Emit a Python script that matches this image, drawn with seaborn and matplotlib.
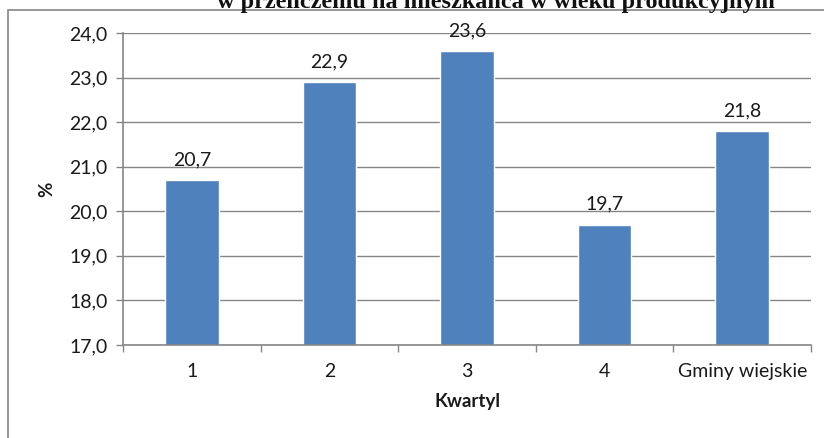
import matplotlib
matplotlib.use("Agg")
import matplotlib.pyplot as plt
import seaborn as sns
import pandas as pd
from matplotlib.patches import Rectangle

# Share values by quartile
categories = ["1", "2", "3", "4", "Gminy wiejskie"]
values = [20.7, 22.9, 23.6, 19.7, 21.8]
value_labels = ["20,7", "22,9", "23,6", "19,7", "21,8"]
y_ticks = [17.0, 18.0, 19.0, 20.0, 21.0, 22.0, 23.0, 24.0]
y_tick_labels = ["17,0", "18,0", "19,0", "20,0", "21,0", "22,0", "23,0", "24,0"]
title = "w przeliczeniu na mieszkańca w wieku produkcyjnym"
x_label = "Kwartyl"
y_label = "%"

df = pd.DataFrame({"kwartyl": categories, "wartosc": values})

sns.set_theme(style="white")
plt.rcParams["font.family"] = ["Lato", "DejaVu Sans"]

W, H = 824, 438
fig = plt.figure(figsize=(W / 100, H / 100), dpi=100)
ax = fig.add_axes([123 / W, 1 - 345 / H, (811 - 123) / W, (345 - 33) / H])

grey = "#868686"
text_col = "#1a1a1a"
sns.barplot(data=df, x="kwartyl", y="wartosc", color="#4F81BD", width=0.39,
            saturation=1, ax=ax, zorder=3)

ax.set_ylim(17.0, 24.0)
ax.set_xlim(-0.5, len(categories) - 0.5)
ax.set_yticks(y_ticks)
ax.set_yticklabels(y_tick_labels, fontsize=14, color=text_col)
ax.set_xticks(range(len(categories)))
ax.set_xticklabels(categories, fontsize=14, color=text_col)
ax.tick_params(axis="x", length=0, pad=13)
ax.tick_params(axis="y", length=5, color=grey, width=1, pad=6, left=True)

# category boundary ticks below the axis
ax.set_xticks([i - 0.5 for i in range(len(categories) + 1)], minor=True)
ax.tick_params(axis="x", which="minor", length=5, color=grey, width=1, bottom=True)

ax.yaxis.grid(True, color=grey, linewidth=1, zorder=0)
ax.set_axisbelow(True)
for side in ["top", "right"]:
    ax.spines[side].set_visible(False)
for side in ["left", "bottom"]:
    ax.spines[side].set_color(grey)
    ax.spines[side].set_linewidth(1.2)
    ax.spines[side].set_zorder(4)

for i, (v, lab) in enumerate(zip(values, value_labels)):
    ax.annotate(lab, (i, v), xytext=(0, 8.5), textcoords="offset points",
                ha="center", va="bottom", fontsize=14, color=text_col)

ax.set_xlabel(x_label, fontsize=13.5, fontweight="bold", labelpad=9, color=text_col)
ax.set_ylabel(y_label, fontsize=13.5, fontweight="bold", labelpad=10, color=text_col)

# outer chart frame (extends past the right and bottom edges)
fig.add_artist(Rectangle((8 / W, -0.1), 1.2, 1 - 10 / H + 0.1,
                         transform=fig.transFigure, fill=False,
                         edgecolor=grey, linewidth=1.2))

fig.text(496 / W, 1 - 8 / H, title, ha="center", va="baseline",
         fontsize=17.5, fontweight="bold", family="Liberation Serif", color="#111111")

fig.savefig("out.png", dpi=100)
